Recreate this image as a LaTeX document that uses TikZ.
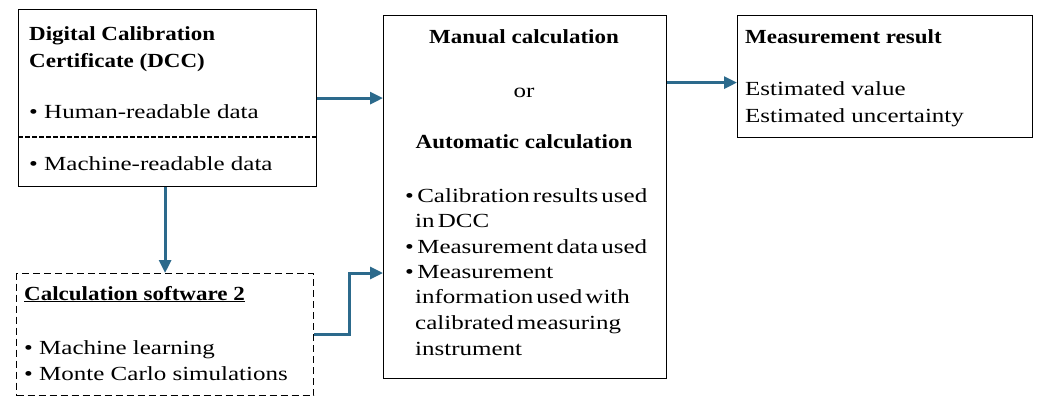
\documentclass[tikz,border=0pt]{standalone}
\usepackage{fontspec}
\setmainfont[UprightFeatures={FakeStretch=1.25},BoldFeatures={FakeStretch=1.15}]{Liberation Serif}
\usetikzlibrary{arrows.meta}
\definecolor{arrowblue}{RGB}{44,106,140}
\newcommand\mytightsp{\spaceskip=0.16em plus 0.05em\relax}
\begin{document}
\begin{tikzpicture}[x=1pt,y=-1pt,
  box/.style={draw=black,line width=1.2pt,anchor=north west,inner sep=0pt},
  txt/.style={anchor=base west,inner sep=0pt,font=\fontsize{20}{24}\selectfont},
  mtxt/.style={anchor=base west,inner sep=0pt,font=\fontsize{20}{24}\selectfont\mytightsp},
  ctxt/.style={anchor=base,inner sep=0pt,font=\fontsize{20}{24}\selectfont},
  arr/.style={draw=arrowblue,line width=3pt,-{Triangle[length=13pt,width=12pt]}}]
\useasboundingbox (0,0) rectangle (1041,407);
% boxes
\node[box,minimum width=298pt,minimum height=177pt] (dcc) at (18,9) {};
\node[box,dash pattern=on 7pt off 4pt,minimum width=297pt,minimum height=122pt] (calc) at (16,273) {};
\node[box,minimum width=283pt,minimum height=363pt] (mid) at (383,15) {};
\node[box,minimum width=295pt,minimum height=122pt] (res) at (737,15) {};
\draw[line width=1.1pt,dash pattern=on 4.5pt off 2.5pt] (dcc.west |- 0,137) -- (dcc.east |- 0,137);
% DCC text
\node[txt] (d1) at (29,40) {\textbf{Digital Calibration}};
\node[txt] (d2) at (29,67) {\textbf{Certificate (DCC)}};
\node[txt] (d3) at (29,118) {\textbullet\ Human-readable data};
\node[txt] (d4) at (29,170) {\textbullet\ Machine-readable data};
% calc text
\node[txt] (c1) at (24,300) {\underline{\textbf{Calculation software 2}}};
\node[txt] (c2) at (24,354) {\textbullet\ Machine learning};
\node[txt] (c3) at (24,380) {\textbullet\ Monte Carlo simulations};
% middle text
\node[ctxt] (m1) at (524,43) {\textbf{Manual calculation}};
\node[ctxt] (m2) at (524,97) {or};
\node[ctxt] (m3) at (524,148) {\textbf{Automatic calculation}};
\node[mtxt] (b1) at (405,202) {\textbullet\,Calibration results used};
\node[mtxt] (b2) at (415,227) {in DCC};
\node[mtxt] (b3) at (405,253) {\textbullet\,Measurement data used};
\node[mtxt] (b4) at (405,278) {\textbullet\,Measurement};
\node[mtxt] (b5) at (415,303) {information used with};
\node[mtxt] (b6) at (415,329) {calibrated measuring};
\node[mtxt] (b7) at (415,355) {instrument};
% result text
\node[txt] (r1) at (745,43) {\textbf{Measurement result}};
\node[txt] (r2) at (745,95) {Estimated value};
\node[txt] (r3) at (745,122) {Estimated uncertainty};
% arrows
\draw[arr] (dcc.east) -- (mid.west |- dcc.east);
\draw[arr] ([yshift=-6pt]res.west -| mid.east) -- ([yshift=-6pt]res.west);
\draw[arr] (dcc.south -| calc.north) -- (calc.north);
\draw[arr] (calc.east) -- ++(35,0) |- (mid.west |- calc.north);
\end{tikzpicture}
\end{document}
